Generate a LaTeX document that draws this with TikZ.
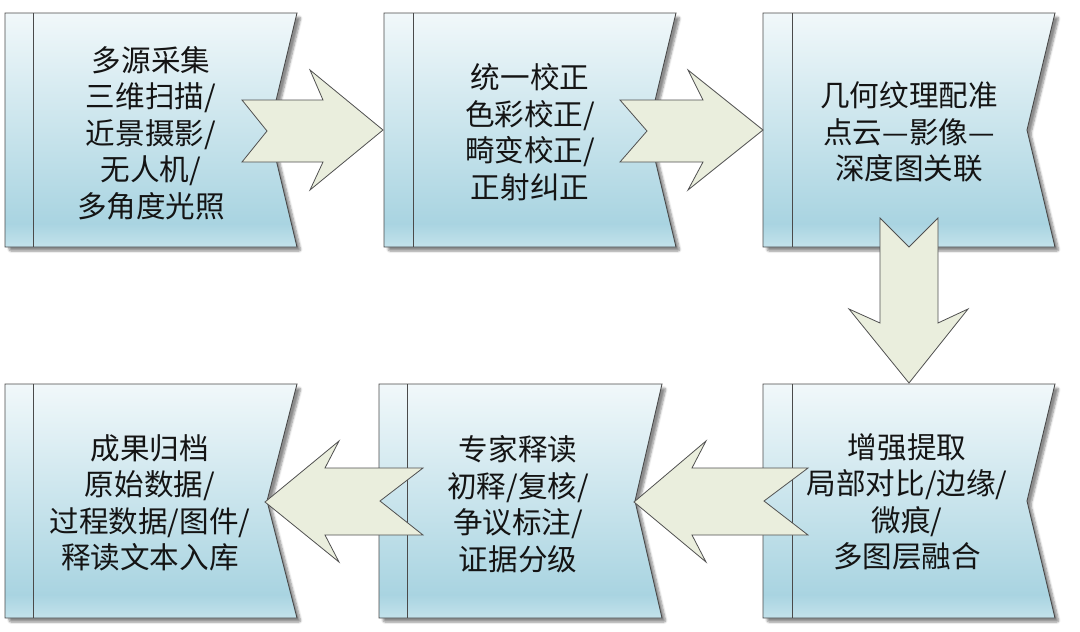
\documentclass[tikz,border=0pt]{standalone}
\usepackage{fontspec}
\setmainfont{Noto Sans CJK SC}
\usetikzlibrary{shadows.blur}
\definecolor{boxline}{HTML}{4A4A4A}
\definecolor{arrowfill}{HTML}{EAEEDD}
\definecolor{arrowline}{HTML}{505050}
\definecolor{shtop}{HTML}{F1F8FA}
\definecolor{shmid}{HTML}{A9D4E1}
\definecolor{shbot}{HTML}{C3E2EB}
\definecolor{txt}{HTML}{141414}
\pgfdeclareverticalshading{boxshade}{100bp}{color(0bp)=(shbot); color(25bp)=(shbot); color(30bp)=(shmid); color(75bp)=(shtop); color(100bp)=(shtop)}
\tikzset{
  flowbox/.style={draw=boxline, line width=0.9pt, shading=boxshade,
    blur shadow={shadow xshift=4pt, shadow yshift=-4pt, shadow blur steps=6, shadow blur extra rounding=2pt, shadow opacity=45}},
  tabline/.style={draw=boxline, line width=0.9pt},
  bigarrow/.style={draw=arrowline, line width=0.8pt, fill=arrowfill, line join=miter},
  label/.style={text=txt, align=center, font=\fontsize{29.6}{36.5}\selectfont, inner sep=0pt}
}
\begin{document}
\begin{tikzpicture}[x=1pt,y=-1pt]
\useasboundingbox (0,0) rectangle (1080,632);
% ---------- row 1 boxes ----------
\path[flowbox] (5,13) -- (297,13) -- (269,130) -- (297,247) -- (5,247) -- cycle;
\draw[tabline] (33,13) -- (33,247);
\path[flowbox] (384,13) -- (676,13) -- (648,130) -- (676,247) -- (384,247) -- cycle;
\draw[tabline] (413,13) -- (413,247);
\path[flowbox] (763,13) -- (1055,13) -- (1027,130) -- (1055,247) -- (763,247) -- cycle;
\draw[tabline] (792,13) -- (792,247);
% ---------- row 2 boxes ----------
\path[flowbox] (5,384) -- (297,384) -- (267,501) -- (297,618) -- (5,618) -- cycle;
\draw[tabline] (33,384) -- (33,618);
\path[flowbox] (379,384) -- (662,384) -- (635,501) -- (662,618) -- (379,618) -- cycle;
\draw[tabline] (407,384) -- (407,618);
\path[flowbox] (763,384) -- (1055,384) -- (1027,501) -- (1055,618) -- (763,618) -- cycle;
\draw[tabline] (792,384) -- (792,618);
% ---------- texts ----------
\node[label] (t1) at (151,133) {多源采集\\三维扫描/\\近景摄影/\\无人机/\\多角度光照};
\node[label] (t2) at (530,132) {统一校正\\色彩校正/\\畸变校正/\\正射纠正};
\node[label] (t3) at (909,132) {几何纹理配准\\点云—影像—\\深度图关联};
\node[label] (t6) at (907,502) {增强提取\\局部对比/边缘/\\微痕/\\多图层融合};
\node[label] (t5) at (518,504) {专家释读\\初释/复核/\\争议标注/\\证据分级};
\node[label] (t4) at (150,503) {成果归档\\原始数据/\\过程数据/图件/\\释读文本入库};
% ---------- arrows ----------
\path[bigarrow] (242,100) -- (323,100) -- (310,70) -- (383,130) -- (310,190) -- (323,162) -- (242,162) -- (267,131) -- cycle;
\path[bigarrow] (620,100) -- (703,100) -- (688,70) -- (763,130) -- (688,190) -- (703,162) -- (620,162) -- (647,131) -- cycle;
\path[bigarrow] (880,218) -- (909,247) -- (938,218) -- (938,323) -- (968,309) -- (909,383) -- (849,309) -- (880,323) -- cycle;
\path[bigarrow] (808,468) -- (692,468) -- (706,441) -- (634,502) -- (706,562) -- (692,535) -- (808,535) -- (764,501) -- cycle;
\path[bigarrow] (423,468) -- (325,468) -- (339,441) -- (265,502) -- (339,562) -- (325,535) -- (423,535) -- (380,501) -- cycle;
\end{tikzpicture}
\end{document}
